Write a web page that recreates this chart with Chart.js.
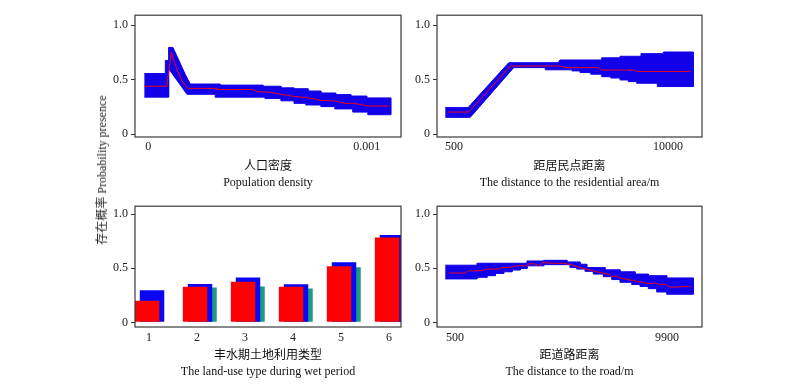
<!DOCTYPE html>
<html>
<head>
<meta charset="utf-8">
<script src="https://cdn.jsdelivr.net/npm/chart.js@4.4.1/dist/chart.umd.min.js"></script>
<style>
body { margin: 0; background: #fff; width: 800px; height: 390px; position: relative; overflow: hidden; }
.panel { position: absolute; }
#ylab {
    position: absolute; left: 101px; top: 170px;
    transform: translate(-50%, -50%) rotate(-90deg);
    white-space: nowrap; color: #222;
    font: 12px 'Liberation Serif', 'Noto Sans CJK SC', serif;
}
</style>
</head>
<body>
<div class="panel" style="left:90px;top:5px"><canvas id="popChart" width="321" height="186"></canvas></div>
<div class="panel" style="left:392px;top:5px"><canvas id="resChart" width="320" height="186"></canvas></div>
<div class="panel" style="left:90px;top:196px"><canvas id="landChart" width="321" height="184"></canvas></div>
<div class="panel" style="left:392px;top:196px"><canvas id="roadChart" width="320" height="184"></canvas></div>
<div id="ylab">存在概率 Probability presence</div>

<script>
// tick labels
const yTicks = [0, 0.5, 1];
const popTicks = [0, 0.001];
const resTicks = [500, 10000];
const roadTicks = [500, 9900];
const landTypes = [1, 2, 3, 4, 5, 6];

// 人口密度 - confidence band (upper edge left->right, lower edge right->left) and mean
const popUpper = [[-0.000018,0.556],[0.000078,0.556],[0.000078,0.675],[0.000093,0.675],[0.000093,0.795],[0.000113,0.795],
    [0.000169,0.55],[0.000192,0.46],[0.000329,0.46],[0.000329,0.45],[0.000525,0.45],[0.000525,0.44],[0.000607,0.44],
    [0.000607,0.425],[0.000667,0.425],[0.000667,0.417],[0.000731,0.417],[0.000731,0.396],[0.00079,0.396],[0.00079,0.378],
    [0.000858,0.378],[0.000858,0.363],[0.000927,0.363],[0.000927,0.35],[0.001,0.35],[0.001,0.333],[0.00111,0.333]];
const popLower = [[0.00111,0.179],[0.001005,0.179],[0.001005,0.203],[0.000936,0.203],[0.000936,0.232],[0.000854,0.232],
    [0.000854,0.253],[0.00079,0.253],[0.00079,0.268],[0.000721,0.268],[0.000721,0.283],[0.000667,0.283],[0.000667,0.306],
    [0.000607,0.306],[0.000607,0.327],[0.000534,0.327],[0.000534,0.34],[0.000306,0.34],[0.000306,0.366],[0.000177,0.366],
    [0.000093,0.6],[0.000093,0.34],[-0.000018,0.34]];
const popMean = [[-0.000018,0.44],[0.000085,0.44],[0.000105,0.75],[0.000131,0.595],[0.000154,0.49],[0.000181,0.42],
    [0.000314,0.42],[0.000314,0.41],[0.000479,0.41],[0.000502,0.39],[0.000557,0.385],[0.000594,0.37],[0.000671,0.345],
    [0.000731,0.335],[0.00079,0.31],[0.000854,0.305],[0.0009,0.283],[0.000945,0.283],[0.001005,0.259],[0.0011,0.259]];

// 距居民点距离
const resUpper = [[114,0.244],[1121,0.244],[2928,0.655],[5117,0.655],[5205,0.68],[7056,0.68],[7056,0.7],[7869,0.7],
    [7869,0.714],[8801,0.714],[8801,0.738],[9791,0.738],[9791,0.753],[11123,0.753]];
const resLower = [[11123,0.437],[9525,0.437],[9525,0.467],[8610,0.467],[8610,0.482],[8237,0.482],[8237,0.497],[7869,0.497],
    [7869,0.515],[7456,0.515],[7456,0.527],[7056,0.527],[7056,0.55],[6568,0.55],[6568,0.565],[6093,0.565],[6093,0.58],
    [5738,0.58],[5738,0.59],[4553,0.59],[4553,0.61],[3150,0.61],[1224,0.155],[114,0.155]];
const resMean = [[265,0.203],[1153,0.203],[2999,0.625],[5205,0.625],[5427,0.61],[6892,0.61],[7056,0.588],[8446,0.588],
    [8668,0.575],[10976,0.575]];

// 丰水期土地利用类型 - three bar series
const redVals = [0.199, 0.329, 0.375, 0.329, 0.52, 0.785];
const blueVals = [0.296, 0.356, 0.414, 0.353, 0.556, 0.809];
const greenVals = [null, 0.323, 0.332, 0.314, 0.511, 0.77];

// 距道路距离
const roadUpper = [[70,0.529],[1475,0.529],[1475,0.547],[3692,0.547],[3692,0.568],[4433,0.568],[4433,0.574],[5466,0.574],
    [5466,0.559],[6043,0.559],[6043,0.538],[6340,0.538],[6340,0.507],[7151,0.507],[7151,0.486],[7816,0.486],[7816,0.468],
    [8481,0.468],[8481,0.447],[9071,0.447],[9071,0.432],[9887,0.432],[9887,0.411],[11066,0.411]];
const roadLower = [[11066,0.26],[9887,0.26],[9887,0.281],[9443,0.281],[9443,0.312],[9071,0.312],[9071,0.332],[8703,0.332],
    [8703,0.351],[8335,0.351],[8335,0.371],[7816,0.371],[7816,0.396],[7448,0.396],[7448,0.423],[7076,0.423],[7076,0.447],
    [6632,0.447],[6632,0.472],[6264,0.472],[6264,0.493],[5896,0.493],[5896,0.507],[5599,0.507],[5599,0.534],[4433,0.534],
    [4433,0.523],[3692,0.523],[3692,0.498],[3395,0.498],[3395,0.484],[3027,0.484],[3027,0.468],[2659,0.468],[2659,0.453],
    [2287,0.453],[2287,0.432],[1919,0.432],[1919,0.417],[1475,0.417],[1475,0.402],[70,0.402]];
const roadMean = [[221,0.457],[957,0.457],[1107,0.477],[1622,0.477],[1919,0.493],[2438,0.493],[2584,0.507],[2952,0.507],
    [3174,0.523],[3617,0.523],[3812,0.543],[4060,0.54],[4211,0.523],[4402,0.553],[4726,0.547],[5320,0.547],[5688,0.532],
    [6043,0.507],[6486,0.484],[6929,0.462],[7373,0.441],[7448,0.423],[7670,0.43],[7816,0.411],[8260,0.393],[8557,0.38],
    [9000,0.362],[9221,0.357],[9368,0.366],[9514,0.351],[9811,0.353],[10033,0.326],[10920,0.332]];

const BAND = '#1200e8';
const MEAN = '#e8001e';

Chart.defaults.font.family = "'Liberation Serif', 'Noto Sans CJK SC', serif";
Chart.defaults.font.size = 12;
Chart.defaults.color = '#222';

// frame round the plot area
const boxPlugin = {
    id: 'box',
    afterDatasetsDraw(chart) {
        const a = chart.chartArea;
        const ctx = chart.ctx;
        ctx.save();
        ctx.strokeStyle = '#3a3a3a';
        ctx.lineWidth = 1.2;
        ctx.strokeRect(a.left, a.top, a.right - a.left, a.bottom - a.top);
        ctx.restore();
    }
};

function makeScales(xMin, xMax, xTicks, xPad, xHeight, yMin, yMax, title) {
    return {
        x: {
            type: 'linear', min: xMin, max: xMax, offset: false,
            grid: { display: false, drawTicks: false, offset: false },
            border: { display: false },
            afterBuildTicks: s => { s.ticks = xTicks.map(v => ({ value: v })); },
            afterFit: s => { s.height = xHeight; },
            ticks: { padding: xPad, maxRotation: 0, autoSkip: false, callback: v => String(v) },
            title: { display: true, text: title, color: '#111', padding: 0, font: { size: 12, lineHeight: 1.33 } }
        },
        y: {
            min: yMin, max: yMax,
            grid: { drawOnChartArea: false, tickLength: 4, color: '#333' },
            border: { display: false },
            afterBuildTicks: s => { s.ticks = yTicks.map(v => ({ value: v })); },
            afterFit: s => { s.width = 45; },
            ticks: { padding: 3, callback: v => v === 0 ? '0' : v.toFixed(1) }
        }
    };
}

const baseOptions = {
    responsive: false,
    animation: false,
    events: [],
    layout: { padding: { top: 8, right: 10, left: 0, bottom: 0 } },
    plugins: { legend: { display: false }, tooltip: { enabled: false } }
};

const toPts = arr => arr.map(p => ({ x: p[0], y: p[1] }));

function bandChart(id, upper, lower, mean, scales) {
    new Chart(document.getElementById(id), {
        type: 'line',
        data: {
            datasets: [
                { data: toPts(mean), borderColor: MEAN, borderWidth: 1, pointRadius: 0, fill: false },
                { data: toPts(upper.concat(lower)), borderColor: BAND, borderWidth: 1, backgroundColor: BAND,
                  pointRadius: 0, fill: 'shape' }
            ]
        },
        options: Object.assign({}, baseOptions, { scales: scales }),
        plugins: [boxPlugin]
    });
}

bandChart('popChart', popUpper, popLower, popMean,
    makeScales(-0.0000609, 0.001157, popTicks, 3, 54, -0.025, 1.09, ['人口密度', 'Population density']));
bandChart('resChart', resUpper, resLower, resMean,
    makeScales(-255, 11509, resTicks, 3, 54, -0.025, 1.09, ['距居民点距离', 'The distance to the residential area/m']));
bandChart('roadChart', roadUpper, roadLower, roadMean,
    makeScales(-298, 11452, roadTicks, 4, 53, -0.043, 1.075, ['距道路距离', 'The distance to the road/m']));

// bar panel: each series on its own hidden axis, slightly shifted so the bars overlap
const landMin = 0.708, landMax = 6.25;
const barShift = { red: -0.04, blue: 0.0625, green: 0.156 };
const landScales = makeScales(landMin, landMax, landTypes, 4, 53, -0.043, 1.075,
    ['丰水期土地利用类型', 'The land-use type during wet period']);
for (const k of ['red', 'blue', 'green']) {
    landScales['x_' + k] = {
        type: 'linear', display: false, offset: false,
        min: landMin - barShift[k], max: landMax - barShift[k],
        afterBuildTicks: s => { s.ticks = landTypes.map(v => ({ value: v })); }
    };
}
const barSet = (vals, key, color) => ({
    data: landTypes.map((c, i) => ({ x: c, y: vals[i] })).filter(p => p.y !== null),
    xAxisID: 'x_' + key, backgroundColor: color, borderWidth: 0,
    categoryPercentage: 1, barPercentage: 0.51, grouped: false
});

new Chart(document.getElementById('landChart'), {
    type: 'bar',
    data: {
        datasets: [
            barSet(redVals, 'red', '#ff0000'),
            barSet(blueVals, 'blue', '#0a06f2'),
            barSet(greenVals, 'green', '#1b9a80')
        ]
    },
    options: Object.assign({}, baseOptions, { scales: landScales }),
    plugins: [boxPlugin]
});
</script>
</body>
</html>
